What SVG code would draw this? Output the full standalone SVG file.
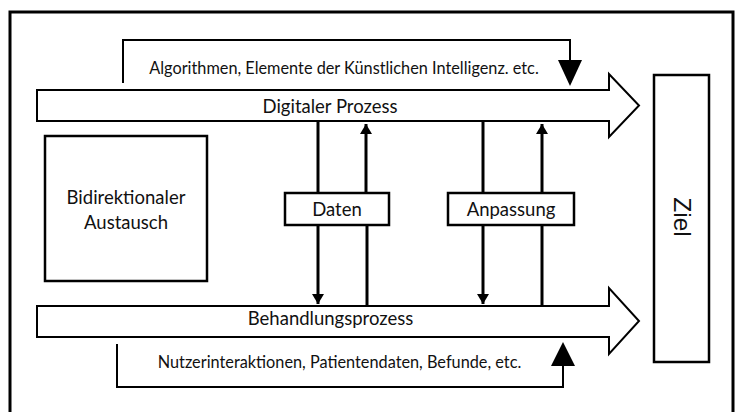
<svg xmlns="http://www.w3.org/2000/svg" width="739" height="412" viewBox="0 0 739 412">
<defs>
<marker id="ah" viewBox="0 0 10 12" refX="10" refY="6" markerWidth="10" markerHeight="12" markerUnits="userSpaceOnUse" orient="auto">
<path d="M0,0 L10,6 L0,12 Z" fill="#000"/>
</marker>
</defs>
<style>
.t{font-family:Lato,"Open Sans","DejaVu Sans",sans-serif;fill:#111;text-anchor:middle}
.box{fill:#fff;stroke:#000;stroke-width:2.5}
.shape{fill:#fff;stroke:#000;stroke-width:2;stroke-linejoin:miter}
.ln{fill:none;stroke:#000;stroke-width:3}
.loop{fill:none;stroke:#000;stroke-width:2}
</style>
<rect x="0" y="0" width="739" height="412" fill="#fff"/>
<rect x="10" y="12" width="723" height="420" fill="none" stroke="#000" stroke-width="3"/>

<g id="digitaler-prozess">
<polygon class="shape" points="37,90 609,90 609,74 639,105.5 609,137 609,121 37,121"/>
<text class="t" x="330" y="113" font-size="18.5">Digitaler Prozess</text>
</g>
<g id="behandlungsprozess">
<polygon class="shape" points="37,306 609,306 609,288 639,321 609,354 609,337 37,337"/>
<text class="t" x="330.5" y="325" font-size="18.5">Behandlungsprozess</text>
</g>
<g id="bidirektional">
<rect class="box" x="45" y="136" width="162" height="145"/>
<text class="t" x="126" y="204" font-size="18.5">Bidirektionaler</text>
<text class="t" x="126" y="229" font-size="18.5">Austausch</text>
</g>
<g id="daten">
<rect class="box" x="285" y="193" width="104" height="32"/>
<text class="t" x="337" y="216" font-size="18.5">Daten</text>
</g>
<g id="anpassung">
<rect class="box" x="448" y="193" width="126" height="32"/>
<text class="t" x="511" y="216" font-size="18.5">Anpassung</text>
</g>
<g id="ziel">
<rect class="box" x="654" y="75" width="55" height="287"/>
<text x="0" y="0" transform="translate(674,217) rotate(90)" font-family="'Liberation Sans',Arial,sans-serif" font-size="24.5" text-anchor="middle" fill="#111">Ziel</text>
</g>
<g id="algorithmen-label">
<text class="t" x="344" y="74" font-size="16.3">Algorithmen, Elemente der Künstlichen Intelligenz. etc.</text>
</g>
<g id="nutzer-label">
<text class="t" x="339.5" y="368" font-size="16.3">Nutzerinteraktionen, Patientendaten, Befunde, etc.</text>
</g>

<g id="connectors">
<polyline class="loop" points="123,83 123,40 570,40 570,62"/>
<polygon points="558,60 582,60 570,86" fill="#000"/>
<polyline class="loop" points="117,344 117,387 563,387 563,366"/>
<polygon points="551,366 575,366 563,342" fill="#000"/>

<line class="ln" x1="318" y1="122" x2="318" y2="193"/>
<line class="ln" x1="366" y1="193" x2="366" y2="124" marker-end="url(#ah)"/>
<line class="ln" x1="318" y1="225" x2="318" y2="304" marker-end="url(#ah)"/>
<line class="ln" x1="367" y1="225" x2="367" y2="305"/>

<line class="ln" x1="483" y1="122" x2="483" y2="193"/>
<line class="ln" x1="542" y1="193" x2="542" y2="124" marker-end="url(#ah)"/>
<line class="ln" x1="483" y1="225" x2="483" y2="304" marker-end="url(#ah)"/>
<line class="ln" x1="542" y1="225" x2="542" y2="305"/>
</g>
</svg>
